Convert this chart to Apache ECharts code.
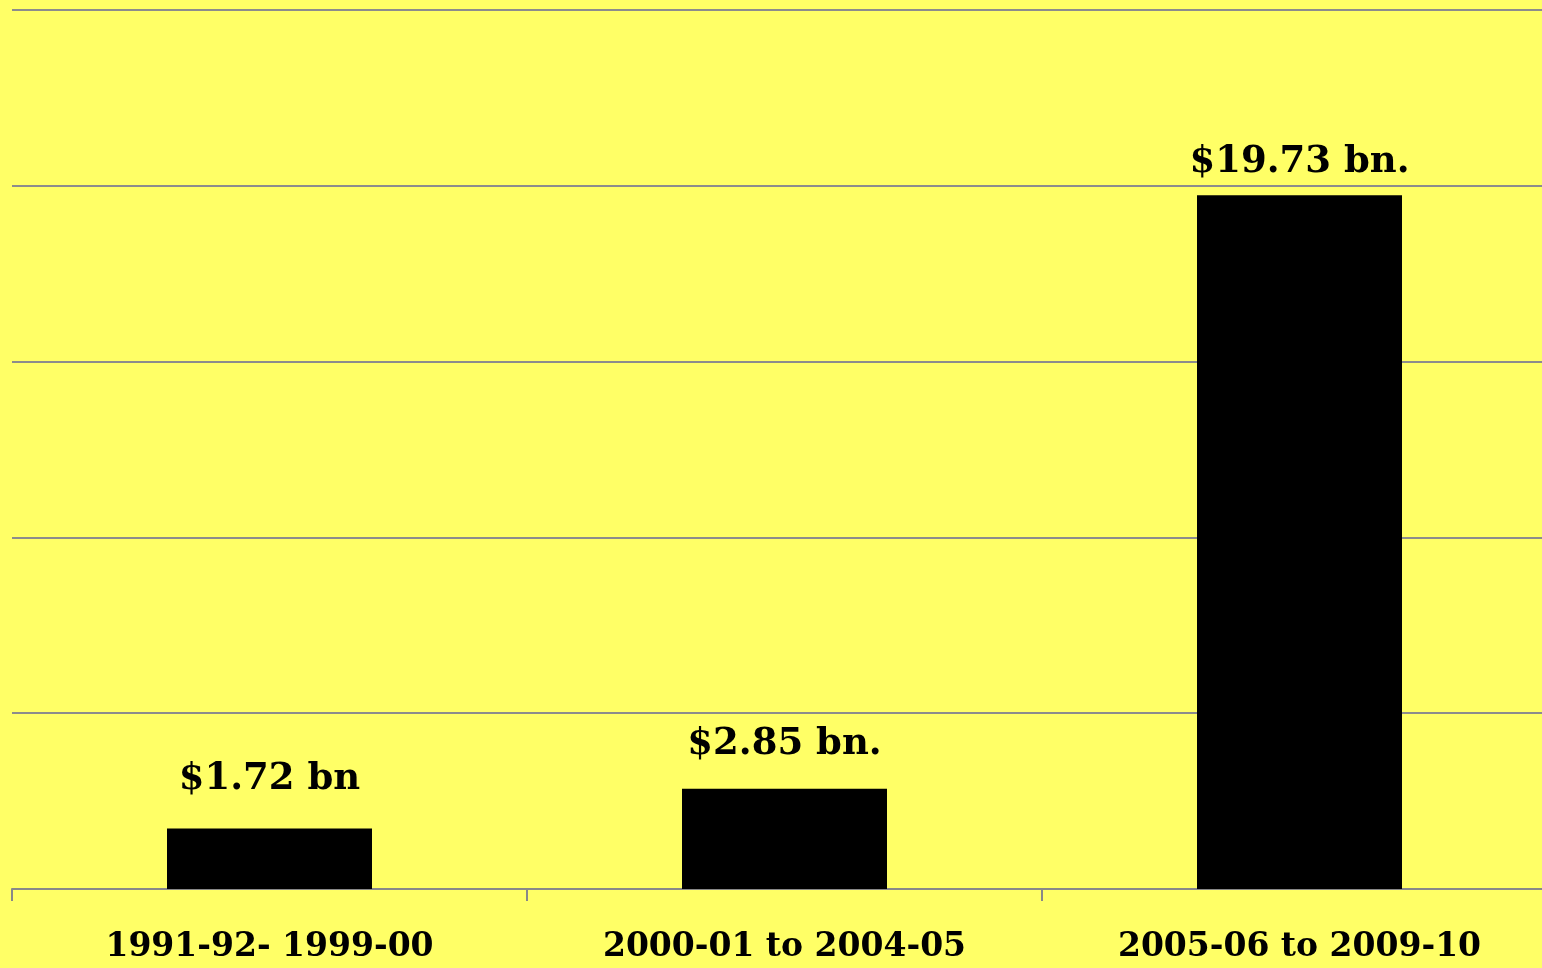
<!DOCTYPE html>
<html>
<head>
<meta charset="utf-8">
<title>Funding by period</title>
<script src="https://cdn.jsdelivr.net/npm/echarts@6/dist/echarts.min.js"></script>
<style>
  html, body { margin: 0; padding: 0; background: #ffff66; }
  #chart { width: 1542px; height: 968px; }
</style>
</head>
<body>
<div id="chart"></div>
<script>
// Periods and amounts (US$ billions)
const periods = ['1991-92- 1999-00', '2000-01 to 2004-05', '2005-06 to 2009-10'];
const amounts = [1.72, 2.85, 19.73];
const amountLabels = ['$1.72 bn', '$2.85 bn.', '$19.73 bn.'];

const serif = '"DejaVu Serif", "Liberation Serif", serif';
const labelGap = [31, 26, 14];

const chart = echarts.init(document.getElementById('chart'));
chart.setOption({
  backgroundColor: '#ffff66',
  animation: false,
  // plot area runs slightly past the right edge, so the last category is partly cut off
  grid: { left: 12, top: 10, width: 1545, bottom: 79, containLabel: false, outerBoundsMode: 'none' },
  xAxis: {
    type: 'category',
    data: periods,
    boundaryGap: true,
    axisLine: { lineStyle: { color: '#888888', width: 2 } },
    axisTick: { show: true, length: 12, lineStyle: { color: '#888888', width: 2 } },
    axisLabel: {
      interval: 0,
      margin: 42,
      color: '#000000',
      fontFamily: serif,
      fontWeight: 'bold',
      fontSize: 33
    }
  },
  yAxis: {
    type: 'value',
    min: 0,
    max: 25,
    interval: 5,
    axisLine: { show: false },
    axisTick: { show: false },
    axisLabel: { show: false },
    splitLine: { lineStyle: { color: '#8c8c8c', width: 2 } }
  },
  series: [{
    type: 'bar',
    barWidth: 205,
    itemStyle: { color: '#000000' },
    label: {
      show: true,
      position: 'top',
      color: '#000000',
      fontFamily: serif,
      fontWeight: 'bold',
      fontSize: 37,
      formatter: p => amountLabels[p.dataIndex]
    },
    data: amounts.map((v, i) => ({ value: v, label: { distance: labelGap[i] } }))
  }]
});
</script>
</body>
</html>
